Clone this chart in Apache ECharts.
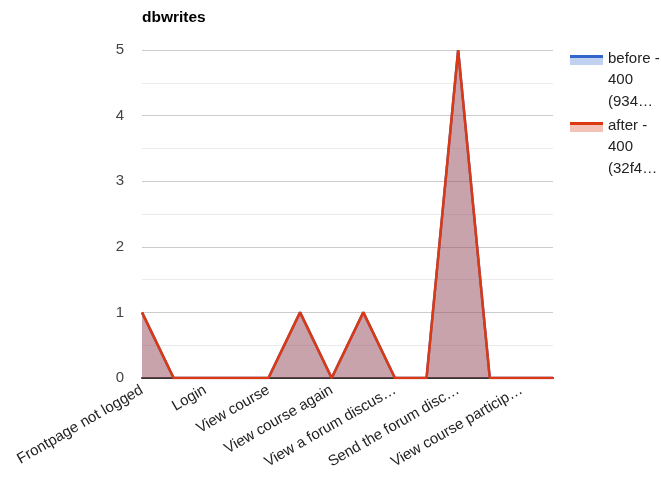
<!DOCTYPE html>
<html>
<head>
<meta charset="utf-8">
<script src="https://cdn.jsdelivr.net/npm/echarts@6/dist/echarts.min.js"></script>
<style>html,body{margin:0;padding:0;background:#fff}#c{width:661px;height:477px}</style>
</head>
<body>
<div id="c"></div>
<script>
var title = 'dbwrites';
var categories = [
  'Frontpage not logged', 'Login page', 'Login', 'Frontpage logged',
  'View course', 'View a page activity', 'View course again', 'View a forum activity',
  'View a forum discus\u2026', 'Fill the form to re\u2026', 'Send the forum disc\u2026', 'View the forum act\u2026',
  'View course particip\u2026', 'View the user profile'
];
var beforeValues = [1, 0, 0, 0, 0, 1, 0, 1, 0, 0, 5, 0, 0, 0];
var afterValues  = [1, 0, 0, 0, 0, 1, 0, 1, 0, 0, 5, 0, 0, 0];
var seriesNames = ['before - 400 (934\u2026', 'after - 400 (32f4\u2026'];
var legendLines = [['before -', '400', '(934\u2026'], ['after -', '400', '(32f4\u2026']];
var yTicks = [0, 1, 2, 3, 4, 5];
var colors = ['#3366cc', '#dc3912'];

var FONT = '"Liberation Sans", Arial, sans-serif';
var chart = echarts.init(document.getElementById('c'), null, {renderer: 'canvas'});

var graphics = [];
legendLines.forEach(function (lines, i) {
  var top = 54 + i * 67;
  graphics.push({type: 'rect', left: 570, top: top + 3, shape: {width: 33, height: 8}, style: {fill: colors[i], opacity: 0.3}, silent: true});
  graphics.push({type: 'rect', left: 570, top: top + 1, shape: {width: 33, height: 3}, style: {fill: colors[i]}, silent: true});
  lines.forEach(function (t, j) {
    graphics.push({type: 'text', left: 608, top: top - 3 + j * 21.5, style: {text: t, font: '15px ' + FONT, fill: '#222'}, silent: true});
  });
});

chart.setOption({
  animation: false,
  backgroundColor: '#fff',
  title: {text: title, left: 142, top: 10, padding: 0, textStyle: {fontFamily: FONT, fontSize: 15.5, fontWeight: 'bold', color: '#000'}},
  grid: {left: 142, right: 108, top: 50, bottom: 99, containLabel: false},
  xAxis: {
    type: 'category', data: categories, boundaryGap: false,
    axisLine: {show: true, lineStyle: {color: '#333', width: 2}},
    axisTick: {show: false},
    axisLabel: {interval: 1, rotate: 30, margin: 11, fontFamily: FONT, fontSize: 15, color: '#222'}
  },
  yAxis: {
    type: 'value', min: 0, max: 5, interval: 1,
    axisLine: {show: false}, axisTick: {show: false},
    axisLabel: {margin: 18, fontFamily: FONT, fontSize: 15, color: '#444'},
    splitLine: {lineStyle: {color: '#cccccc', width: 1}},
    minorTick: {show: false, splitNumber: 2},
    minorSplitLine: {show: true, lineStyle: {color: '#ebebeb', width: 1}}
  },
  series: [
    {name: seriesNames[0], type: 'line', data: beforeValues, symbol: 'none', lineStyle: {color: colors[0], width: 2.5}, itemStyle: {color: colors[0]}, areaStyle: {color: colors[0], opacity: 0.3}, z: 2},
    {name: seriesNames[1], type: 'line', data: afterValues, symbol: 'none', lineStyle: {color: colors[1], width: 2.5}, itemStyle: {color: colors[1]}, areaStyle: {color: colors[1], opacity: 0.3}, z: 3}
  ],
  graphic: graphics
});
</script>
</body>
</html>
